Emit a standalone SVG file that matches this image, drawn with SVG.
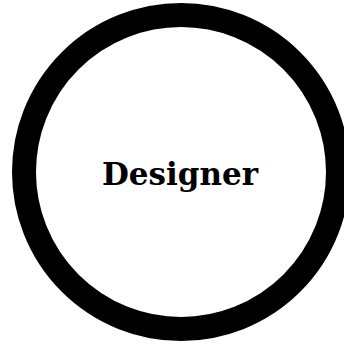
<svg xmlns="http://www.w3.org/2000/svg" width="344" height="345" viewBox="0 0 344 345">
<style>
.node-shape{fill:#fff;stroke:#000;stroke-width:24}
.label{font-family:"DejaVu Serif","Liberation Serif",serif;font-weight:bold;font-size:31px;fill:#000;text-anchor:middle}
</style>
<rect width="344" height="345" fill="#fff"/>
<g id="connectors"></g>
<g id="designer">
<circle class="node-shape" cx="181" cy="172" r="157"/>
<text class="label" x="180" y="185">Designer</text>
</g>
</svg>
